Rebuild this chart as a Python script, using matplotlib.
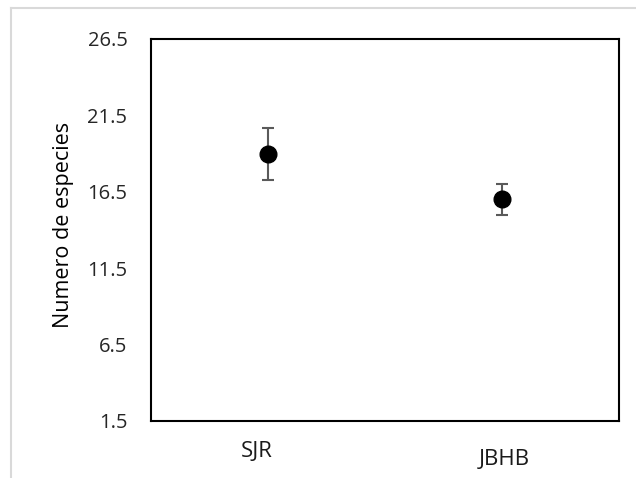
import matplotlib
matplotlib.use("Agg")
import matplotlib.pyplot as plt
from matplotlib.lines import Line2D

# data
sites = ["SJR", "JBHB"]
x_pos = [1, 2]
means = [19.0, 16.0]
errors = [1.7, 1.0]
yticks = [1.5, 6.5, 11.5, 16.5, 21.5, 26.5]

plt.rcParams['font.family'] = ['Open Sans', 'DejaVu Sans']

W, H = 636, 478
fig = plt.figure(figsize=(W / 100, H / 100), dpi=100, facecolor='white')
# plot box in pixels: left 151, right 619, top 39, bottom 421
axis = fig.add_axes([151 / W, 1 - 421 / H, 468 / W, 382 / H])

axis.errorbar(x_pos, means, yerr=errors, fmt='o', color='black', markersize=12,
              ecolor='#5a5a5a', elinewidth=1.5, capsize=4.5, capthick=1.5, zorder=3)

axis.set_xlim(0.5, 2.5)
axis.set_ylim(1.5, 26.5)
axis.set_yticks(yticks)
axis.set_yticklabels([str(t) for t in yticks], color='#262626')
axis.set_xticks([])
axis.tick_params(axis='y', length=0, pad=17, labelsize=14.5)
for s in axis.spines.values():
    s.set_linewidth(1.5)
    s.set_color('black')

fig.text(64 / W, 1 - 225 / H, "Numero de especies", rotation=90,
         ha='center', va='center', fontsize=15.5)

# category labels (text boxes under the plot)
label_x = [0.95, 2.01]
label_y = [-0.081, -0.102]
for lx, name, ly in zip(label_x, sites, label_y):
    axis.text(lx, ly, name, transform=axis.get_xaxis_transform(),
              ha='center', va='center', fontsize=16, color='#1a1a1a')

# light gray frame of the chart area
fig.add_artist(Line2D([11 / W, 11 / W], [0, 1 - 8 / H], transform=fig.transFigure,
                      color='#d9d9d9', linewidth=1.5))
fig.add_artist(Line2D([11 / W, 1], [1 - 8 / H, 1 - 8 / H], transform=fig.transFigure,
                      color='#d9d9d9', linewidth=1.5))

fig.savefig("out.png", dpi=100, facecolor='white')
